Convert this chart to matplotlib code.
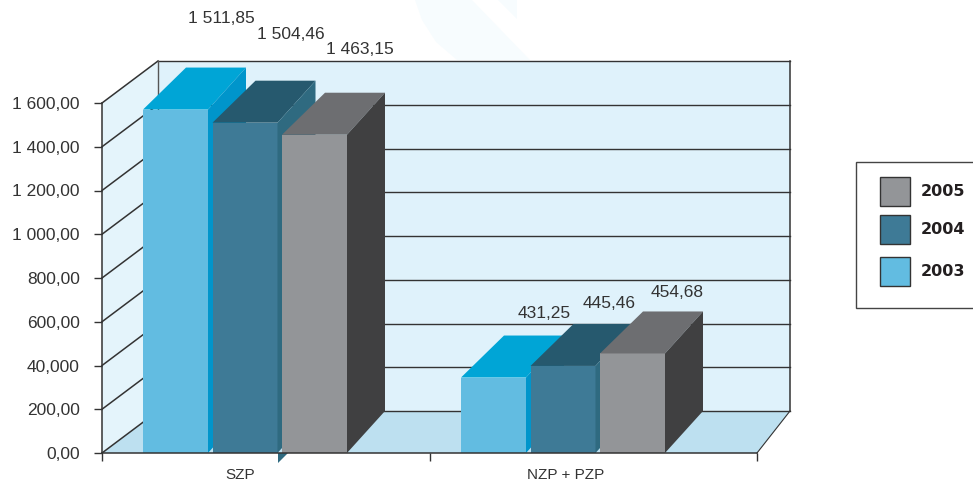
import matplotlib
matplotlib.use("Agg")
import matplotlib.pyplot as plt
from matplotlib.patches import Polygon, Rectangle

plt.rcParams['font.family'] = ['Liberation Sans', 'DejaVu Sans']

categories = ["SZP", "NZP + PZP"]
years = ["2003", "2004", "2005"]
# drawn heights, they do not agree with the printed labels
heights_2003 = [1570, 345]
heights_2004 = [1510, 398]
heights_2005 = [1455, 455]
labels_2003 = ["1 511,85", "431,25"]
labels_2004 = ["1 504,46", "445,46"]
labels_2005 = ["1 463,15", "454,68"]
y_ticks = [0, 200, 400, 600, 800, 1000, 1200, 1400, 1600]
y_tick_labels = ["0,00", "200,00", "40,000", "600,00", "800,00", "1 000,00",
                 "1 200,00", "1 400,00", "1 600,00"]

front = ["#62bce1", "#3e7a96", "#939598"]
top = ["#00a5d6", "#26596e", "#6d6e71"]
side = ["#0095cb", "#2f6a80", "#404041"]
GRID = "#333333"

W, H = 973, 482
X0, X1, Y0, Y1 = 102, 757, 453, 103
PX = 2 / (X1 - X0)         # x units per pixel
PY = 1600 / (Y0 - Y1)      # y units per pixel

fig = plt.figure(figsize=(W / 100, H / 100), dpi=100, facecolor="white")

# page level things: watermark and legend box
bg = fig.add_axes([0, 0, 1, 1], zorder=0)
bg.set_xlim(0, W)
bg.set_ylim(H, 0)
bg.axis("off")
bg.add_patch(Polygon([(415, 0), (472, 0), (530, 60), (457, 60), (436, 42), (422, 20)],
                     fc="#f7fcfe", ec="none"))
bg.add_patch(Polygon([(498, 0), (517, 0), (517, 19)], fc="#f7fcfe", ec="none"))

ax = fig.add_axes([X0 / W, (H - Y0) / H, (X1 - X0) / W, (Y0 - Y1) / H], zorder=1)
ax.patch.set_alpha(0)
ax.set_xlim(0, 2)
ax.set_ylim(0, 1600)

wall_l = 56 * PX
wall_r = 2 + 33 * PX
depth = 42 * PY
top_y = 1600 + depth

ax.add_patch(Polygon([(wall_l, depth), (wall_r, depth), (wall_r, top_y), (wall_l, top_y)],
                     fc="#dff2fb", ec="none", clip_on=False, zorder=1))
ax.add_patch(Polygon([(0, 0), (wall_l, depth), (wall_l, top_y), (0, 1600)],
                     fc="#e4f4fb", ec="none", clip_on=False, zorder=1))
ax.add_patch(Polygon([(0, 0), (2, 0), (wall_r, depth), (wall_l, depth)],
                     fc="#bde0f0", ec="none", clip_on=False, zorder=1))
for t in y_ticks:
    ax.plot([0, wall_l], [t, t + depth], color=GRID, lw=1.1, clip_on=False, zorder=2)
    ax.plot([wall_l, wall_r], [t + depth, t + depth], color=GRID, lw=1.0, clip_on=False, zorder=2)
ax.plot([wall_l, wall_l], [depth, top_y], color="#555555", lw=1.0, clip_on=False, zorder=2)
ax.plot([wall_r, wall_r], [depth, top_y], color=GRID, lw=1.1, clip_on=False, zorder=2)
ax.plot([2, wall_r], [0, depth], color=GRID, lw=0.8, clip_on=False, zorder=2)

# bars: left edge of each group, width, pitch in pixels
group_left = [143, 461]
bar_w = 65
pitch = [69.5, 69.5]
depth_left = 43
depth_right = 38
label_dx = [[5, 5, 5], [10, 6, 4]]
label_dy = [49, 46, 43], [22, 20, 19]

heights = [heights_2003, heights_2004, heights_2005]
labels = [labels_2003, labels_2004, labels_2005]
for g in range(len(categories)):
    for s in range(len(years)):
        v = heights[s][g]
        x = (group_left[g] - X0 + s * pitch[g]) * PX
        w = bar_w * PX
        ax.bar(x, v, width=w, align="edge", color=front[s], zorder=3 + s, clip_on=False)
        ax.add_patch(Polygon([(x, v), (x + w, v), (x + w + depth_right * PX, v + depth),
                              (x + depth_left * PX, v + depth)],
                             fc=top[s], ec="none", clip_on=False, zorder=3 + s))
        ax.add_patch(Polygon([(x + w, 0), (x + w + depth_right * PX, depth),
                              (x + w + depth_right * PX, v + depth), (x + w, v)],
                             fc=side[s], ec="none", clip_on=False, zorder=3 + s))
        cx = x + (depth_left + (bar_w + depth_right)) / 2 * PX
        ax.annotate(labels[s][g], (cx, v + depth),
                    xytext=(label_dx[g][s] * 0.72, label_dy[g][s] * 0.72),
                    textcoords="offset points", ha="center", va="center",
                    fontsize=12.5, color="#333333", annotation_clip=False, zorder=10)

# stray corner of the 2004 bar under the axis
corner = (278 - X0) * PX
ax.add_patch(Polygon([(corner, 0), (corner + 10 * PX, 0), (corner, -10 * PY)],
                     fc=side[1], ec="none", clip_on=False, zorder=6))

for name in ["top", "right"]:
    ax.spines[name].set_visible(False)
for name in ["left", "bottom"]:
    ax.spines[name].set_color(GRID)
    ax.spines[name].set_linewidth(1.1)
    ax.spines[name].set_zorder(8)

ax.set_yticks(y_ticks)
ax.set_yticklabels(y_tick_labels, fontsize=12.5, color="#333333")
ax.set_xticks([0, (430 - X0) * PX, 2])
ax.set_xticklabels([])
ax.set_xticks([(240 - X0) * PX, (566 - X0) * PX], minor=True)
ax.set_xticklabels(categories, minor=True, fontsize=11, color="#333333")
ax.tick_params(axis="y", length=6, width=1, color=GRID, pad=10)
ax.tick_params(axis="x", which="major", length=6, width=1, color=GRID)
ax.tick_params(axis="x", which="minor", length=0, pad=10.5)

# legend, runs off the right edge like the reference
lg = fig.add_axes([0, 0, 1, 1], zorder=2)
lg.set_xlim(0, W)
lg.set_ylim(H, 0)
lg.axis("off")
lg.patch.set_alpha(0)
lg.add_patch(Rectangle((856, 162), 140, 146, fc="white", ec="#444444", lw=1))
swatch_y = [257, 215, 177]
for s in range(len(years)):
    lg.add_patch(Rectangle((880, swatch_y[s]), 30, 29, fc=front[s], ec="#333333", lw=1))
    lg.text(921, swatch_y[s] + 15, years[s], family="DejaVu Sans", fontweight="bold",
            fontsize=11.5, color="#231f20", va="center", ha="left")

fig.savefig("out.png", dpi=100)
